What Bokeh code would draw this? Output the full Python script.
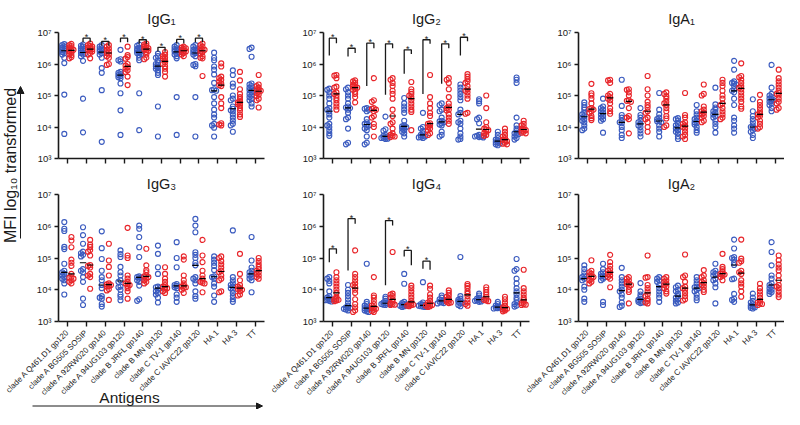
import numpy as np
from math import pi
from bokeh.plotting import figure
from bokeh.layouts import row, column
from bokeh.models import (Range1d, FixedTicker, CustomJSTickFormatter, Arrow,
                          NormalHead, ColumnDataSource)
from bokeh.embed import file_html
from bokeh.resources import INLINE
from bokeh.core.properties import value

# ---------------- data (log10 MFI) ----------------
CATEGORIES = ["clade A Q461.D1 gp120", "clade A BG505 SOSIP", "clade A 92RW020 gp140",
              "clade A 94UG103 gp120", "clade B JRFL gp140", "clade B MN gp120",
              "clade C TV-1 gp140", "clade C IAVIC22 gp120", "HA 1", "HA 3", "TT"]
Y_TICKS = [1e3, 1e4, 1e5, 1e6, 1e7]

IGG1_BLUE = [
    [6.63, 6.6, 6.56, 6.52, 6.5, 6.47, 6.45, 6.42, 6.38, 6.35, 6.3, 6.2, 6.03, 5.03, 3.78],
    [6.62, 6.58, 6.55, 6.5, 6.45, 6.42, 6.38, 6.35, 6.33, 6.3, 6.25, 6.1, 4.9, 3.83],
    [6.6, 6.55, 6.5, 6.47, 6.45, 6.42, 6.4, 6.35, 6.3, 6.2, 5.87, 5.72, 5.17, 3.53],
    [6.45, 6.15, 6.12, 6.08, 5.75, 5.72, 5.68, 5.65, 5.62, 5.58, 5.55, 5.38, 5.07, 4.53, 3.75],
    [6.62, 6.58, 6.52, 6.48, 6.45, 6.42, 6.4, 6.37, 6.35, 6.32, 6.28, 6.2, 6.12, 5.07, 3.9],
    [6.33, 6.25, 6.2, 6.12, 6.05, 6.0, 5.97, 5.93, 5.9, 5.85, 5.8, 5.72, 5.65, 4.65, 3.7],
    [6.6, 6.55, 6.5, 6.47, 6.45, 6.42, 6.4, 6.37, 6.33, 6.3, 6.25, 6.18, 4.95, 3.75],
    [6.6, 6.55, 6.5, 6.45, 6.42, 6.4, 6.38, 6.35, 6.3, 6.25, 6.0, 5.97, 5.93, 4.95, 3.7],
    [6.36, 6.2, 6.12, 5.92, 5.82, 5.67, 5.4, 5.2, 5.17, 5.15, 4.95, 4.75, 4.55, 4.4, 4.3, 4.1, 4.05, 3.98, 3.7],
    [5.8, 5.65, 5.38, 5.28, 5.0, 4.9, 4.85, 4.65, 4.58, 4.53, 4.5, 4.4, 4.3, 4.2, 4.1, 4.05, 3.85],
    [6.52, 6.48, 6.23, 5.38, 5.35, 5.3, 5.25, 5.2, 5.17, 5.15, 5.1, 5.05, 5.0, 4.95, 4.9, 4.85, 4.75, 4.65],
]
IGG1_RED = [
    [6.64, 6.6, 6.57, 6.53, 6.5, 6.47, 6.45, 6.42, 6.4, 6.36, 6.32, 6.28, 6.22, 6.18],
    [6.65, 6.6, 6.57, 6.55, 6.52, 6.5, 6.47, 6.45, 6.42, 6.4, 6.35, 6.3, 6.18],
    [6.6, 6.55, 6.5, 6.45, 6.4, 6.35, 6.3, 6.25, 6.2, 6.0, 5.97],
    [6.55, 6.28, 6.22, 6.17, 6.0, 5.95, 5.9, 5.85, 5.8, 5.75, 5.6, 5.33],
    [6.65, 6.62, 6.58, 6.55, 6.52, 6.5, 6.47, 6.45, 6.42, 6.38, 6.3, 6.2, 6.15],
    [6.38, 6.3, 6.25, 6.2, 6.18, 6.12, 6.05, 6.0, 5.93, 5.85, 5.75, 5.6],
    [6.55, 6.52, 6.5, 6.48, 6.45, 6.42, 6.4, 6.38, 6.35, 6.3, 6.25],
    [6.65, 6.6, 6.55, 6.5, 6.47, 6.45, 6.42, 6.38, 6.33, 6.25, 6.2, 6.18, 5.62],
    [6.02, 5.92, 5.6, 5.55, 5.5, 5.45, 5.38, 5.33, 5.3, 4.95, 4.75, 4.6, 4.12, 4.08, 4.05],
    [5.75, 5.48, 5.2, 5.05, 4.95, 4.88, 4.82, 4.78, 4.75, 4.72, 4.68, 4.6, 4.52, 4.4, 4.32],
    [5.65, 5.35, 5.3, 5.25, 5.2, 5.18, 5.15, 5.12, 5.08, 5.03, 4.98, 4.9, 4.85, 4.62],
]
IGG2_BLUE = [
    [5.22, 5.18, 5.1, 5.0, 4.9, 4.75, 4.6, 4.55, 4.5, 4.4, 4.3, 4.1, 4.05, 4.0, 3.9, 3.8, 3.72],
    [5.25, 5.2, 5.1, 5.0, 4.9, 4.75, 4.65, 4.62, 4.6, 4.55, 4.45, 4.3, 4.25, 3.95, 3.5, 3.45],
    [4.6, 4.58, 4.55, 4.5, 4.25, 4.15, 4.1, 4.08, 4.05, 4.0, 3.95, 3.9, 3.7, 3.5, 3.45],
    [4.33, 3.93, 3.88, 3.75, 3.72, 3.7, 3.68, 3.66, 3.65, 3.63, 3.62],
    [4.92, 4.75, 4.65, 4.55, 4.45, 4.2, 4.05, 4.02, 4.0, 3.98, 3.95, 3.9, 3.85, 3.8, 3.7],
    [4.45, 4.0, 3.95, 3.88, 3.8, 3.75, 3.72, 3.7, 3.68, 3.67, 3.65],
    [4.75, 4.7, 4.55, 4.5, 4.3, 4.2, 4.18, 4.15, 4.12, 4.08, 4.05, 3.85, 3.75, 3.7],
    [5.35, 5.25, 5.15, 5.05, 4.95, 4.85, 4.55, 4.45, 4.4, 4.2, 4.15, 4.1, 3.95, 3.8, 3.7, 3.62, 3.6],
    [4.88, 4.82, 4.75, 4.3, 4.25, 4.12, 3.75, 3.72, 3.7, 3.7, 3.68, 3.67],
    [3.85, 3.75, 3.65, 3.6, 3.57, 3.55, 3.52, 3.5, 3.48, 3.45, 3.42],
    [5.57, 5.5, 5.4, 4.3, 4.05, 3.95, 3.88, 3.82, 3.8, 3.78, 3.75, 3.7, 3.65, 3.6],
]
IGG2_RED = [
    [5.65, 5.63, 5.55, 5.28, 5.25, 5.1, 5.05, 5.0, 4.92, 4.85, 4.75, 4.65, 4.55],
    [5.48, 5.45, 5.4, 5.35, 5.3, 5.28, 5.25, 5.22, 5.18, 5.12, 5.05, 4.95, 4.78],
    [5.55, 4.85, 4.8, 4.6, 4.58, 4.55, 4.5, 4.35, 4.3, 4.1, 4.0, 3.7],
    [5.55, 5.5, 5.4, 5.3, 5.15, 5.05, 4.9, 4.55, 4.35, 4.15, 4.1, 3.95, 3.8, 3.75, 3.72, 3.7, 3.68],
    [5.43, 5.2, 5.12, 5.05, 5.0, 4.95, 4.85, 4.75, 4.65, 4.55, 4.48, 3.9],
    [5.65, 4.95, 4.75, 4.6, 4.45, 4.35, 4.12, 4.1, 4.05, 4.0, 3.95, 3.9, 3.8, 3.75],
    [5.55, 5.5, 5.4, 5.2, 4.95, 4.75, 4.65, 4.6, 4.55, 4.52, 4.4, 4.3, 4.2, 4.1],
    [5.68, 5.6, 5.52, 5.45, 5.4, 5.3, 5.2, 5.15, 5.1, 5.0, 4.9, 4.45, 4.42],
    [5.0, 4.6, 4.15, 4.0, 3.95, 3.92, 3.9, 3.85, 3.8, 3.75, 3.72],
    [3.95, 3.85, 3.75, 3.7, 3.65, 3.6, 3.57, 3.55, 3.5, 3.47, 3.45],
    [4.2, 4.1, 4.05, 4.0, 3.95, 3.92, 3.9, 3.88, 3.85, 3.82, 3.8],
]
IGA1_BLUE = [
    [4.78, 4.7, 4.62, 4.55, 4.45, 4.4, 4.35, 4.3, 4.25, 4.2, 4.15, 4.05, 3.95, 3.9],
    [4.9, 4.65, 4.6, 4.55, 4.5, 4.45, 4.4, 4.35, 4.3, 4.25, 4.2, 3.82],
    [5.5, 4.67, 4.38, 4.3, 4.2, 4.15, 4.12, 4.0, 3.9, 3.75, 3.65],
    [4.6, 4.38, 4.3, 4.2, 4.15, 4.1, 4.05, 4.0, 3.9, 3.8, 3.7],
    [5.08, 4.55, 4.4, 4.3, 4.25, 4.2, 4.18, 4.15, 4.05, 3.95, 3.85, 3.7],
    [4.28, 4.25, 4.2, 4.1, 4.05, 4.0, 3.95, 3.9, 3.85, 3.8, 3.7, 3.62],
    [4.7, 4.5, 4.4, 4.3, 4.25, 4.2, 4.15, 4.12, 4.08, 4.0, 3.9, 3.82],
    [5.25, 4.72, 4.62, 4.55, 4.5, 4.45, 4.4, 4.35, 4.3, 4.2, 4.1, 4.0, 3.82],
    [6.1, 5.82, 5.45, 5.4, 5.38, 5.35, 5.3, 5.2, 5.15, 5.1, 4.9, 4.7, 4.3, 4.2, 4.05, 3.95, 3.82],
    [4.88, 4.5, 4.35, 4.25, 4.15, 4.05, 4.0, 3.98, 3.95, 3.9, 3.85, 3.75, 3.65],
    [5.97, 5.25, 5.05, 5.0, 4.95, 4.9, 4.88, 4.85, 4.82, 4.8, 4.75, 4.7, 4.6, 4.5],
]
IGA1_RED = [
    [5.37, 5.07, 5.0, 4.9, 4.75, 4.6, 4.57, 4.55, 4.5, 4.45, 4.35, 4.28, 4.22],
    [5.5, 5.48, 5.4, 5.05, 5.0, 4.95, 4.9, 4.85, 4.75, 4.6, 4.5, 4.42],
    [5.2, 5.18, 5.1, 5.0, 4.85, 4.83, 4.8, 4.6, 4.35, 4.3, 4.25, 3.8],
    [5.62, 5.2, 5.0, 4.8, 4.7, 4.62, 4.5, 4.45, 4.3, 4.25, 4.15, 4.0, 3.85],
    [5.1, 5.05, 4.98, 4.9, 4.8, 4.75, 4.7, 4.6, 4.5, 4.35, 4.27, 4.05, 4.0],
    [5.08, 4.38, 4.3, 4.15, 4.1, 4.05, 4.0, 3.95, 3.85, 3.75, 3.7, 3.62],
    [5.35, 5.05, 5.0, 4.65, 4.55, 4.5, 4.45, 4.4, 4.35, 4.3, 4.2, 4.15],
    [5.5, 5.4, 5.3, 5.15, 5.0, 4.9, 4.75, 4.7, 4.6, 4.5, 4.4, 4.3, 4.25],
    [6.02, 5.62, 5.58, 5.5, 5.4, 5.3, 5.25, 5.2, 5.1, 5.0, 4.9, 4.8, 4.65, 4.58],
    [5.02, 4.8, 4.7, 4.6, 4.5, 4.42, 4.4, 4.35, 4.3, 4.2, 4.1, 4.0, 3.95],
    [5.82, 5.55, 5.45, 5.35, 5.25, 5.15, 5.08, 5.05, 5.0, 4.9, 4.8, 4.75, 4.6, 4.55],
]
IGG3_BLUE = [
    [6.13, 5.92, 5.85, 5.35, 5.28, 4.82, 4.6, 4.55, 4.5, 4.45, 4.4, 4.35, 4.3, 4.2, 3.85],
    [5.97, 5.72, 5.45, 5.2, 5.15, 5.1, 5.05, 4.65, 4.6, 4.55, 4.4, 4.25, 3.72, 3.52],
    [5.84, 5.31, 4.97, 4.6, 4.4, 4.3, 4.15, 4.05, 3.8, 3.75, 3.72, 3.55, 3.47],
    [5.24, 5.12, 5.03, 4.72, 4.55, 4.45, 4.3, 4.25, 4.1, 4.08, 4.0, 3.85, 3.78, 3.67],
    [6.02, 5.92, 5.66, 5.34, 5.03, 4.42, 4.4, 4.38, 4.35, 4.3, 4.25, 4.13, 3.7, 3.65],
    [5.39, 5.13, 4.71, 4.5, 4.1, 4.08, 4.05, 4.0, 3.95, 3.9, 3.85, 3.75, 3.6],
    [5.5, 5.0, 4.71, 4.18, 4.15, 4.12, 4.08, 4.05, 3.85, 3.75, 3.62],
    [6.23, 6.02, 5.81, 5.18, 5.1, 5.0, 4.85, 4.77, 4.4, 4.35, 4.3, 4.2, 3.95, 3.8, 3.72],
    [5.05, 4.95, 4.85, 4.75, 4.62, 4.42, 4.4, 4.35, 4.2, 4.1, 3.82, 3.62],
    [5.87, 4.4, 4.3, 4.2, 4.15, 4.1, 4.05, 4.0, 3.9, 3.8, 3.7, 3.62],
    [5.66, 4.92, 4.7, 4.6, 4.55, 4.5, 4.45, 4.4, 4.35, 4.3, 3.92],
]
IGG3_RED = [
    [5.66, 5.55, 5.34, 4.95, 4.85, 4.75, 4.5, 4.4, 4.38, 4.35, 4.3, 4.25, 4.2],
    [5.57, 5.42, 5.35, 5.25, 5.2, 5.08, 4.78, 4.75, 4.7, 4.5, 4.45, 4.4, 4.03],
    [5.45, 4.92, 4.72, 4.45, 4.2, 4.17, 4.15, 4.12, 4.1, 4.02, 3.98, 3.68],
    [5.95, 5.08, 5.0, 4.45, 4.35, 4.25, 4.2, 4.18, 4.15, 4.12, 4.05, 3.95, 3.72],
    [5.29, 4.77, 4.62, 4.55, 4.45, 4.42, 4.4, 4.35, 4.3, 4.25, 4.2],
    [4.71, 4.5, 4.35, 4.25, 4.15, 4.1, 4.08, 4.05, 4.0, 3.95, 3.9],
    [5.05, 4.95, 4.45, 4.3, 4.2, 4.12, 4.1, 4.08, 4.05, 4.0, 3.9],
    [5.57, 5.08, 4.87, 4.6, 4.45, 4.35, 4.28, 4.25, 4.22, 4.2, 3.92],
    [5.05, 5.0, 4.9, 4.8, 4.7, 4.6, 4.55, 4.45, 4.35, 4.3, 3.95, 3.92],
    [5.13, 4.5, 4.3, 4.15, 4.1, 4.05, 4.02, 4.0, 3.95, 3.85, 3.82],
    [5.0, 4.9, 4.8, 4.72, 4.65, 4.6, 4.55, 4.5, 4.45, 4.4, 4.35],
]
IGG4_BLUE = [
    [4.4, 4.35, 4.28, 4.2, 3.95, 3.8, 3.75, 3.72, 3.7, 3.68, 3.67, 3.65, 3.63],
    [4.15, 4.0, 3.9, 3.8, 3.7, 3.6, 3.5, 3.45, 3.43, 3.42, 3.4, 3.38, 3.35],
    [4.82, 3.62, 3.55, 3.5, 3.45, 3.42, 3.4, 3.38, 3.35, 3.32, 3.3],
    [3.78, 3.72, 3.65, 3.6, 3.58, 3.57, 3.55, 3.55, 3.53, 3.52],
    [4.5, 4.19, 3.62, 3.58, 3.55, 3.53, 3.52, 3.5, 3.5, 3.48, 3.46],
    [4.24, 3.6, 3.55, 3.53, 3.52, 3.5, 3.5, 3.48, 3.47, 3.46],
    [3.82, 3.75, 3.7, 3.67, 3.65, 3.62, 3.6, 3.58, 3.57],
    [5.03, 3.8, 3.72, 3.68, 3.65, 3.62, 3.6, 3.57, 3.52, 3.48],
    [3.88, 3.82, 3.75, 3.72, 3.7, 3.68, 3.66, 3.65, 3.63, 3.62],
    [3.62, 3.55, 3.5, 3.48, 3.45, 3.43, 3.42, 3.41, 3.4],
    [4.97, 4.65, 4.6, 4.35, 4.2, 4.05, 3.95, 3.85, 3.75, 3.68, 3.6, 3.55, 3.5, 3.47],
]
IGG4_RED = [
    [4.55, 4.4, 4.3, 4.2, 4.1, 4.0, 3.9, 3.78, 3.72, 3.7, 3.68, 3.66, 3.64],
    [5.24, 4.5, 4.4, 4.3, 4.2, 4.15, 4.1, 4.0, 3.9, 3.7, 3.55, 3.45, 3.35, 3.3],
    [4.4, 3.82, 3.75, 3.65, 3.55, 3.5, 3.45, 3.42, 3.4, 3.37, 3.33, 3.3],
    [5.19, 3.88, 3.85, 3.8, 3.75, 3.7, 3.62, 3.58, 3.55, 3.53, 3.52],
    [4.13, 4.05, 3.95, 3.85, 3.75, 3.65, 3.58, 3.55, 3.53, 3.52, 3.5, 3.48],
    [4.13, 4.03, 3.85, 3.75, 3.65, 3.6, 3.55, 3.53, 3.52, 3.5, 3.48, 3.46],
    [3.98, 3.9, 3.82, 3.78, 3.72, 3.68, 3.65, 3.62, 3.6, 3.58],
    [4.18, 4.12, 4.05, 3.95, 3.88, 3.8, 3.7, 3.6, 3.55, 3.5],
    [4.08, 4.0, 3.92, 3.85, 3.78, 3.72, 3.68, 3.66, 3.64],
    [3.78, 3.7, 3.6, 3.5, 3.45, 3.42, 3.4, 3.38, 3.35, 3.32],
    [4.63, 4.05, 3.95, 3.85, 3.75, 3.68, 3.62, 3.58, 3.55, 3.53, 3.52],
]
IGA2_BLUE = [
    [4.77, 4.65, 4.55, 4.45, 4.4, 4.35, 4.3, 4.1, 4.0, 3.72, 3.62],
    [4.82, 4.65, 4.55, 4.5, 4.45, 4.42, 4.4, 4.35, 4.3, 3.62, 3.52],
    [4.69, 4.4, 4.3, 4.2, 4.1, 4.0, 3.95, 3.85, 3.75, 3.6, 3.5, 3.46],
    [4.21, 3.95, 3.85, 3.78, 3.72, 3.68, 3.65, 3.62, 3.6, 3.58],
    [4.4, 4.35, 4.3, 4.25, 4.15, 4.05, 3.95, 3.85, 3.75, 3.62],
    [4.13, 4.08, 4.0, 3.95, 3.88, 3.8, 3.75, 3.7, 3.65, 3.6, 3.57],
    [4.4, 4.3, 4.2, 4.1, 4.08, 4.05, 4.0, 3.95, 3.85, 3.75, 3.67],
    [4.82, 4.6, 4.55, 4.5, 4.45, 4.35, 4.3, 4.2, 4.08, 3.57],
    [5.58, 5.3, 5.03, 5.0, 4.95, 4.85, 4.78, 4.35, 4.33, 3.87, 3.72, 3.68, 3.62],
    [3.88, 3.75, 3.65, 3.6, 3.55, 3.5, 3.48, 3.45, 3.43, 3.41],
    [5.5, 5.19, 4.77, 4.45, 4.35, 4.2, 4.15, 4.1, 4.05, 4.0, 3.95, 3.92, 3.87],
]
IGA2_RED = [
    [4.93, 4.6, 4.55, 4.5, 4.45, 4.42, 4.4, 4.35, 4.3, 4.25, 4.2],
    [5.1, 4.87, 4.75, 4.65, 4.6, 4.55, 4.5, 4.45, 4.4, 4.35, 4.08],
    [4.4, 4.35, 4.3, 4.25, 4.2, 4.18, 4.15, 4.1, 4.0, 3.93, 3.57],
    [5.08, 4.4, 4.38, 4.15, 4.05, 3.95, 3.85, 3.8, 3.72, 3.65, 3.6, 3.57],
    [4.4, 4.35, 4.3, 4.25, 4.2, 4.15, 4.1, 4.05, 3.95, 3.88],
    [5.11, 4.45, 4.4, 4.25, 4.1, 4.05, 4.0, 3.9, 3.8, 3.7, 3.66],
    [4.62, 4.45, 4.4, 4.3, 4.25, 4.2, 4.15, 4.1, 4.0, 3.93],
    [5.13, 4.72, 4.65, 4.58, 4.52, 4.5, 4.48, 4.45, 4.4, 4.3],
    [5.58, 4.98, 4.9, 4.85, 4.6, 4.55, 4.5, 4.3, 4.2, 4.1, 3.95, 3.78],
    [4.19, 4.05, 3.95, 3.85, 3.75, 3.65, 3.6, 3.57, 3.55, 3.52],
    [5.08, 4.93, 4.8, 4.7, 4.61, 4.45, 4.3, 4.15, 4.1, 4.05, 3.95, 3.85, 3.77],
]

# significance brackets: (category, top, left-leg end, right-leg end) in log10
IGG1_BRACKETS = [(1, 6.82, 6.69, 6.69), (2, 6.72, 6.59, 6.59), (3, 6.82, 6.69, 6.69),
                 (4, 6.77, 6.64, 6.64), (5, 6.53, 6.40, 6.40), (6, 6.78, 6.65, 6.65),
                 (7, 6.82, 6.69, 6.69)]
IGG2_BRACKETS = [(0, 6.82, 6.27, 6.66), (1, 6.50, 6.24, 6.35), (2, 6.66, 5.30, 6.50),
                 (3, 6.64, 5.02, 6.50), (4, 6.45, 5.69, 6.32), (5, 6.77, 5.05, 6.64),
                 (6, 6.64, 5.37, 6.50), (7, 6.85, 6.27, 6.72)]
IGG4_BRACKETS = [(0, 5.29, 4.87, 5.13), (1, 6.24, 4.61, 6.08), (3, 6.18, 4.14, 6.02),
                 (4, 5.24, 5.05, 4.77), (5, 4.90, 4.66, 4.63)]

# ---------------- style / layout ----------------
FONT = "Liberation Sans"
BLUE = "#3b5bbf"
RED = "#e8262b"
INK = "#1a1a1a"
OFF = 0.19
FW = 206                      # frame width of every panel (px)
SP = FW / len(CATEGORIES)     # px per category
FRAME_LEFT = [58, 323, 578]   # frame left edges of the three panel columns
TOTAL_H = 409
ROWS_H = 327                  # height of the two panel rows

SUP_CODE = """
const sup = ['\\u2070','\\u00b9','\\u00b2','\\u00b3','\\u2074','\\u2075','\\u2076','\\u2077','\\u2078','\\u2079'];
const e = Math.round(Math.log10(tick));
return '10' + sup[e];
"""


def swarm(vals, step=0.11, gap=0.055):
    placed, offs = [], []
    for v in vals:
        chosen = 0.0
        for o in (0.0, -step, step, -2 * step, 2 * step):
            if all(abs(o - po) > step * 0.5 or abs(v - pv) >= gap for po, pv in placed):
                chosen = o
                break
        placed.append((chosen, v))
        offs.append(chosen)
    return offs


def make_panel(title, blue, red, brackets, width, height, left, right, top, bottom, standoff):
    p = figure(width=width, height=height, x_range=Range1d(-0.5, 10.5),
               y_range=Range1d(1e3, 1e7), y_axis_type="log", title=title,
               output_backend="svg", toolbar_location=None,
               min_border_left=left, min_border_right=right,
               min_border_top=top, min_border_bottom=bottom)
    p.title.align = "center"
    p.title.text_font = FONT
    p.title.text_font_size = "14.5px"
    p.title.text_font_style = "normal"
    p.title.text_color = INK
    p.title.standoff = standoff
    p.grid.visible = False
    p.outline_line_color = None

    for groups, color, sign in ((blue, BLUE, -1), (red, RED, 1)):
        xs, ys, mx0, mx1, my = [], [], [], [], []
        for i, vals in enumerate(groups):
            c = i + sign * OFF
            for o, v in zip(swarm(vals), vals):
                xs.append(c + o)
                ys.append(10 ** v)
            med = 10 ** float(np.median(vals))
            mx0.append(c - 0.17)
            mx1.append(c + 0.17)
            my.append(med)
        p.scatter(x="x", y="y", source=ColumnDataSource(dict(x=xs, y=ys)),
                  marker="circle", size=5, fill_color=None, line_color=color,
                  line_width=1.15)
        p.segment(x0=mx0, y0=my, x1=mx1, y1=my, line_color="black", line_width=1.2)

    if brackets:
        bx, by, sx, sy = [], [], [], []
        for cat, topv, lb, rb in brackets:
            xl, xr = cat - OFF, cat + OFF
            bx.append([xl, xl, xr, xr])
            by.append([10 ** lb, 10 ** topv, 10 ** topv, 10 ** rb])
            sx.append(cat)
            sy.append(10 ** topv)
        p.multi_line(xs=bx, ys=by, line_color=INK, line_width=1.3)
        p.text(x=sx, y=sy, text=["*"] * len(sx), text_align="center",
               text_baseline="alphabetic", text_font=value(FONT),
               text_font_size="9px", text_color=INK, y_offset=-1)

    for ax in (p.xaxis, p.yaxis):
        ax.axis_line_width = 1.6
        ax.axis_line_color = INK
        ax.major_tick_line_width = 1.4
        ax.major_tick_line_color = INK
        ax.minor_tick_line_color = None
        ax.major_tick_in = 0
    p.yaxis.ticker = FixedTicker(ticks=Y_TICKS, minor_ticks=[])
    p.yaxis.formatter = CustomJSTickFormatter(code=SUP_CODE)
    p.yaxis.major_tick_out = 4
    p.yaxis.major_label_standoff = 3
    p.yaxis.major_label_text_font = FONT
    p.yaxis.major_label_text_font_size = "9.5px"
    p.yaxis.major_label_text_color = INK
    p.xaxis.ticker = FixedTicker(ticks=list(range(len(CATEGORIES))), minor_ticks=[])
    p.xaxis.formatter = CustomJSTickFormatter(code="return '';")
    p.xaxis.major_label_text_font_size = "0px"
    p.xaxis.major_label_standoff = 0
    p.xaxis.major_tick_out = 5
    return p


def cat_at(px, frame_left):
    return -0.5 + (px - frame_left) / SP


def make_strip(a, b, frame_left):
    # strip below a panel column holding the rotated category names
    s = figure(width=b - a, height=TOTAL_H - ROWS_H,
               x_range=Range1d(cat_at(a, frame_left), cat_at(b, frame_left)),
               y_range=Range1d(TOTAL_H, ROWS_H),
               x_axis_type=None, y_axis_type=None, output_backend="svg",
               toolbar_location=None, min_border=0)
    s.outline_line_color = None
    s.text(x=list(range(len(CATEGORIES))), y=[ROWS_H + 3.5] * len(CATEGORIES),
           text=CATEGORIES, angle=pi / 4, text_align="right", text_baseline="middle",
           text_font=value(FONT), text_font_size="8px", text_color=INK)
    return s


TOP_H, BOT_H = 170, ROWS_H - 170
f1 = make_panel("IgG\u2081", IGG1_BLUE, IGG1_RED, IGG1_BRACKETS, 269, TOP_H, 32, 31, 32, 12, 12)
f2 = make_panel("IgG\u2082", IGG2_BLUE, IGG2_RED, IGG2_BRACKETS, 255, TOP_H, 28, 21, 32, 12, 12)
f3 = make_panel("IgA\u2081", IGA1_BLUE, IGA1_RED, None, 234, TOP_H, 28, 0, 32, 12, 12)
f4 = make_panel("IgG\u2083", IGG3_BLUE, IGG3_RED, None, 269, BOT_H, 32, 31, 24, 6, 6)
f5 = make_panel("IgG\u2084", IGG4_BLUE, IGG4_RED, IGG4_BRACKETS, 255, BOT_H, 28, 21, 24, 6, 6)
f6 = make_panel("IgA\u2082", IGA2_BLUE, IGA2_RED, None, 234, BOT_H, 28, 0, 24, 6, 6)

# vertical axis title (coordinates are layout pixels)
ylab = figure(width=26, height=ROWS_H, x_range=Range1d(0, 26), y_range=Range1d(ROWS_H, 0),
              x_axis_type=None, y_axis_type=None, output_backend="svg",
              toolbar_location=None, min_border=0)
ylab.outline_line_color = None
ylab.text(x=[10], y=[165], text=["MFI log\u2081\u2080 transformed"], angle=pi / 2,
          text_align="center", text_baseline="middle", text_font=value(FONT),
          text_font_size="16px", text_color=INK)
ylab.add_layout(Arrow(end=NormalHead(size=7, fill_color=INK, line_color=INK),
                      x_start=20, y_start=238, x_end=20, y_end=86,
                      line_color=INK, line_width=1))

s1 = make_strip(0, 264, FRAME_LEFT[0])
s2 = make_strip(264, 524, FRAME_LEFT[1])
s3 = make_strip(524, 784, FRAME_LEFT[2])

# "Antigens" title with its arrow, in layout pixels of the first strip
s1.extra_x_ranges = {"px": Range1d(0, 264)}
s1.text(x=[129], y=[396.5], text=["Antigens"], x_range_name="px", text_align="center",
        text_baseline="middle", text_font=value(FONT), text_font_size="15.5px",
        text_color=INK)
s1.add_layout(Arrow(end=NormalHead(size=6, fill_color=INK, line_color=INK),
                    x_start=32, y_start=405.5, x_end=262, y_end=405.5,
                    x_range_name="px", line_color=INK, line_width=1))

layout = column(row(ylab, column(row(f1, f2, f3), row(f4, f5, f6))),
                row(s1, s2, s3))

with open("out.html", "w", encoding="utf-8") as fh:
    fh.write(file_html(layout, INLINE, title="MFI by antigen"))
